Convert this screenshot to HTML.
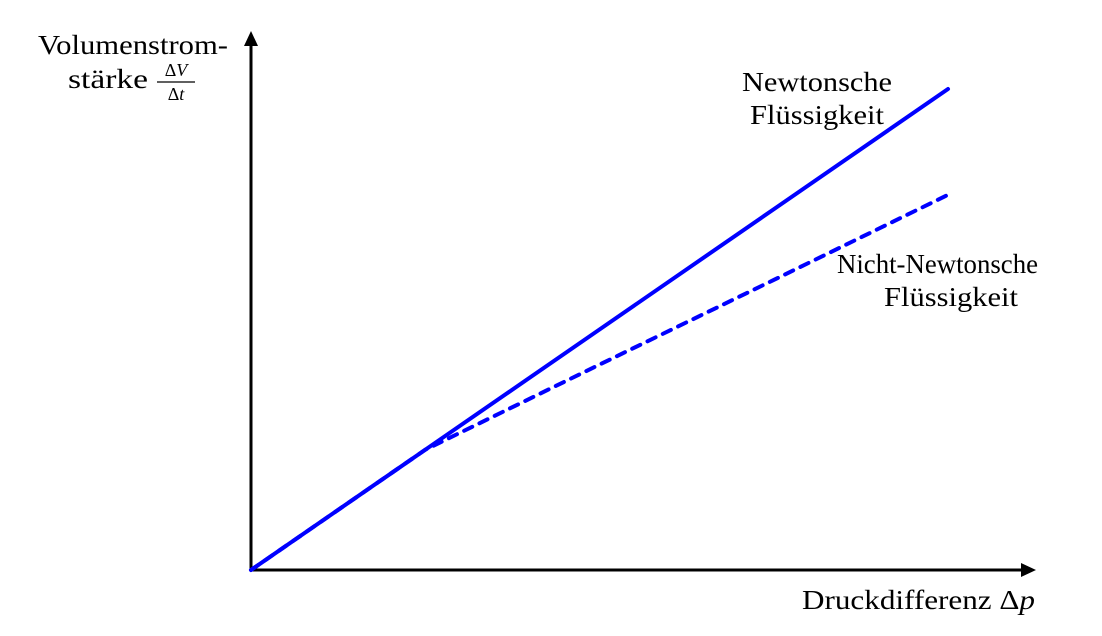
<!DOCTYPE html>
<html><head><meta charset="utf-8"><style>
body{margin:0;background:#fff;width:1102px;height:636px;overflow:hidden}
svg{display:block}
text{font-family:"Liberation Serif",serif;font-size:27px;fill:#000}
</style></head><body>
<svg id="c" width="1102" height="636">
<g>
<line x1="251" y1="570" x2="1022" y2="570" stroke="#000" stroke-width="3"/>
<polygon points="1036,570 1021,563 1021,577" fill="#000"/>
</g>
<g>
<line x1="251" y1="570" x2="251" y2="45" stroke="#000" stroke-width="3"/>
<polygon points="251,31 244,46 258,46" fill="#000"/>
</g>
<g>
<text x="38" y="54" textLength="190" lengthAdjust="spacingAndGlyphs">Volumenstrom-</text>
<text x="68" y="88" textLength="80" lengthAdjust="spacingAndGlyphs">stärke</text>
<text x="176" y="76" text-anchor="middle" style="font-size:18px"><tspan>Δ</tspan><tspan font-style="italic">V</tspan></text>
<line x1="157" y1="82" x2="195" y2="82" stroke="#000" stroke-width="1.2"/>
<text x="176" y="100" text-anchor="middle" style="font-size:18px"><tspan>Δ</tspan><tspan font-style="italic">t</tspan></text>
</g>
<text x="802" y="609" textLength="233" lengthAdjust="spacingAndGlyphs">Druckdifferenz Δ<tspan font-style="italic">p</tspan></text>
<g>
<text x="742" y="91" textLength="150" lengthAdjust="spacingAndGlyphs">Newtonsche</text>
<text x="750" y="124" textLength="134" lengthAdjust="spacingAndGlyphs">Flüssigkeit</text>
</g>
<g>
<text x="837" y="273" textLength="201" lengthAdjust="spacingAndGlyphs">Nicht-Newtonsche</text>
<text x="884" y="306" textLength="134" lengthAdjust="spacingAndGlyphs">Flüssigkeit</text>
</g>
</svg>
<script>
const xs = [0, 1, 2, 2.5, 5, 7.5, 10];
const newtonValues = [0, 1, 2, 2.5, 5, 7.5, 10];
const nonNewtonValues = [0, 1, 2, 2.5, 4.27, 6.03, 7.8];
function sx(v){return 251 + v/10*697;}
function sy(v){return 570 - v/10*481;}
const svg = document.getElementById('c');
function line(vals, dashed, name){
  const p = document.createElementNS('http://www.w3.org/2000/svg','polyline');
  p.setAttribute('points', xs.map((x,i)=>sx(x)+','+sy(vals[i])).join(' '));
  p.setAttribute('fill','none');
  p.setAttribute('stroke','#0000ff');
  p.setAttribute('stroke-width','4');
  p.setAttribute('stroke-linecap','round');
  if(dashed) p.setAttribute('stroke-dasharray','9 8');
  
  
  svg.appendChild(p);
}
line(nonNewtonValues, true, 'non-newtonian-line');
line(newtonValues, false, 'newtonian-line');
</script>
</body></html>
